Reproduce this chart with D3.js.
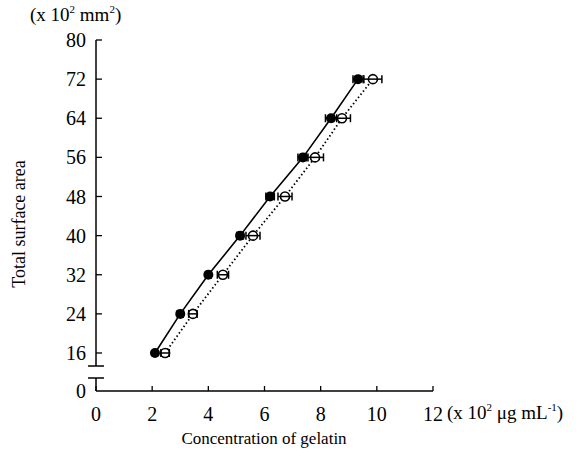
<!DOCTYPE html>
<html>
<head>
<meta charset="utf-8">
<script src="https://cdnjs.cloudflare.com/ajax/libs/d3/7.8.5/d3.min.js"></script>
<style>
  body { margin: 0; background: #fff; }
  text { font-family: "Liberation Serif", "Times New Roman", serif; fill: #000; }
</style>
</head>
<body>
<div id="chart"></div>
<script>
// surface area levels (x10^2 mm^2)
var areaLevels = [16, 24, 32, 40, 48, 56, 64, 72];
// concentration of gelatin (x10^2 ug/mL) for each series
var filledConc = [2.10, 3.00, 4.00, 5.13, 6.20, 7.37, 8.37, 9.33];
var filledErr = [0.08, 0.1, 0.1, 0.12, 0.15, 0.18, 0.2, 0.18];
var openConc = [2.46, 3.45, 4.52, 5.59, 6.73, 7.80, 8.76, 9.86];
var openErr = [0.15, 0.15, 0.2, 0.25, 0.25, 0.3, 0.3, 0.32];
var xTicks = [0, 2, 4, 6, 8, 10, 12];
var yTicks = [16, 24, 32, 40, 48, 56, 64, 72, 80];

var W = 584, H = 457;
var svg = d3.select("#chart").append("svg").attr("width", W).attr("height", H);

var x = d3.scaleLinear().domain([0, 12]).range([96, 433]);
var y = d3.scaleLinear().domain([16, 80]).range([353, 40]);
var yZero = 391;

// y axis (upper part, broken)
svg.append("line").attr("x1", 96).attr("x2", 96).attr("y1", y(80)).attr("y2", 366)
  .attr("stroke", "#000").attr("stroke-width", 1.5);
svg.append("line").attr("x1", 88).attr("x2", 104).attr("y1", 366).attr("y2", 366)
  .attr("stroke", "#000").attr("stroke-width", 1.5);
svg.append("line").attr("x1", 88).attr("x2", 104).attr("y1", 378).attr("y2", 378)
  .attr("stroke", "#000").attr("stroke-width", 1.5);
svg.append("line").attr("x1", 96).attr("x2", 96).attr("y1", 378).attr("y2", yZero)
  .attr("stroke", "#000").attr("stroke-width", 1.5);

yTicks.forEach(function(t) {
  svg.append("line").attr("x1", 96).attr("x2", 102).attr("y1", y(t)).attr("y2", y(t))
    .attr("stroke", "#000").attr("stroke-width", 1.3);
  svg.append("text").attr("x", 86).attr("y", y(t)).attr("dy", "0.35em")
    .attr("text-anchor", "end").attr("font-size", 20).text(t);
});
svg.append("text").attr("x", 86).attr("y", yZero).attr("dy", "0.35em")
  .attr("text-anchor", "end").attr("font-size", 20).text("0");

// x axis
svg.append("line").attr("x1", 96).attr("x2", x(12)).attr("y1", yZero).attr("y2", yZero)
  .attr("stroke", "#000").attr("stroke-width", 1.5);
xTicks.forEach(function(t) {
  svg.append("line").attr("x1", x(t)).attr("x2", x(t)).attr("y1", yZero).attr("y2", yZero - 5)
    .attr("stroke", "#000").attr("stroke-width", 1.3);
  svg.append("text").attr("x", x(t)).attr("y", 414).attr("dy", "0.35em")
    .attr("text-anchor", "middle").attr("font-size", 20).text(t);
});

// axis titles and units
svg.append("text").attr("x", 264).attr("y", 444).attr("text-anchor", "middle")
  .attr("font-size", 17).text("Concentration of gelatin");
svg.append("text").attr("transform", "translate(25,224) rotate(-90)")
  .attr("text-anchor", "middle").attr("font-size", 18).text("Total surface area");

var xu = svg.append("text").attr("x", 447).attr("y", 419).attr("font-size", 19);
xu.append("tspan").text("(x 10");
xu.append("tspan").attr("font-size", 11).attr("dy", -8).text("2");
xu.append("tspan").attr("dy", 8).text(" \u03bcg mL");
xu.append("tspan").attr("font-size", 11).attr("dy", -8).text("-1");
xu.append("tspan").attr("dy", 8).text(")");

var yu = svg.append("text").attr("x", 30).attr("y", 21).attr("font-size", 19);
yu.append("tspan").text("(x 10");
yu.append("tspan").attr("font-size", 11).attr("dy", -8).text("2");
yu.append("tspan").attr("dy", 8).text(" mm");
yu.append("tspan").attr("font-size", 11).attr("dy", -8).text("2");
yu.append("tspan").attr("dy", 8).text(")");

var filled = areaLevels.map(function(a, i) { return {a: a, c: filledConc[i], e: filledErr[i]}; });
var open = areaLevels.map(function(a, i) { return {a: a, c: openConc[i], e: openErr[i]}; });

var line = d3.line().x(function(d) { return x(d.c); }).y(function(d) { return y(d.a); });

svg.append("path").datum(open).attr("d", line).attr("fill", "none")
  .attr("stroke", "#000").attr("stroke-width", 1.8).attr("stroke-dasharray", "1.5,2.5");
svg.append("path").datum(filled).attr("d", line).attr("fill", "none")
  .attr("stroke", "#000").attr("stroke-width", 1.6);

function errBars(data) {
  var g = svg.append("g").attr("stroke", "#000").attr("stroke-width", 1.5);
  data.forEach(function(d) {
    var x0 = x(d.c - d.e), x1 = x(d.c + d.e), yy = y(d.a);
    g.append("line").attr("x1", x0).attr("x2", x1).attr("y1", yy).attr("y2", yy);
    g.append("line").attr("x1", x0).attr("x2", x0).attr("y1", yy - 4).attr("y2", yy + 4);
    g.append("line").attr("x1", x1).attr("x2", x1).attr("y1", yy - 4).attr("y2", yy + 4);
  });
}

// open markers with error bars
svg.append("g").selectAll("circle").data(open).enter().append("circle")
  .attr("cx", function(d) { return x(d.c); }).attr("cy", function(d) { return y(d.a); })
  .attr("r", 4.5).attr("fill", "#fff").attr("stroke", "#000").attr("stroke-width", 1.6);
errBars(open);

// filled markers with error bars
errBars(filled);
svg.append("g").selectAll("circle").data(filled).enter().append("circle")
  .attr("cx", function(d) { return x(d.c); }).attr("cy", function(d) { return y(d.a); })
  .attr("r", 5).attr("fill", "#000");
</script>
</body>
</html>
